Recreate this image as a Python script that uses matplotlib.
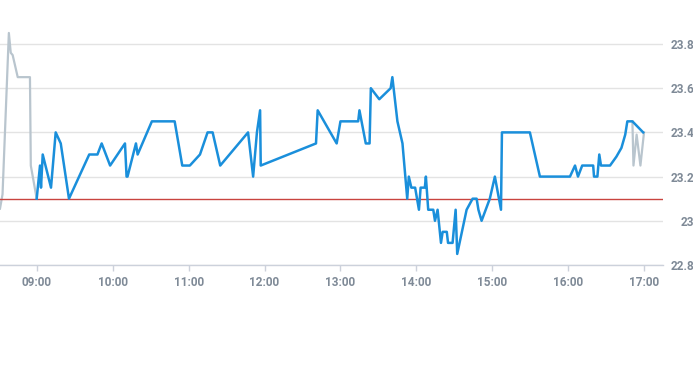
import matplotlib
matplotlib.use("Agg")
import matplotlib.pyplot as plt
import matplotlib.dates as mdates
import pandas as pd

day = "2024-01-01 "

# main sensor (blue)
main_times = [
    "09:00:00", "09:02:36", "09:03:24", "09:04:45", "09:11:18", "09:15:00", "09:19:00",
    "09:25:30", "09:41:30", "09:48:00", "09:51:20", "09:58:00", "10:09:45", "10:11:00",
    "10:11:45", "10:18:25", "10:19:45", "10:31:00", "10:49:00", "10:55:00", "11:01:00",
    "11:09:00", "11:15:00", "11:19:00", "11:25:00", "11:47:00", "11:51:00", "11:54:00",
    "11:56:30", "11:57:00", "12:40:40", "12:42:00", "12:57:00", "13:00:00", "13:14:00",
    "13:15:00", "13:20:00", "13:23:00", "13:24:00", "13:30:40", "13:39:40", "13:41:00",
    "13:45:00", "13:49:00", "13:52:45", "13:54:00", "13:56:00", "13:59:00", "14:02:00",
    "14:03:20", "14:06:40", "14:07:30", "14:09:20", "14:13:20", "14:14:40", "14:16:45",
    "14:19:25", "14:20:45", "14:24:00", "14:25:00", "14:28:35", "14:31:00", "14:32:15",
    "14:39:40", "14:44:25", "14:47:35", "14:49:00", "14:51:30", "14:58:00", "15:02:00",
    "15:06:50", "15:07:35", "15:29:40", "15:37:35", "16:01:20", "16:05:20", "16:07:40",
    "16:11:00", "16:19:40", "16:20:20", "16:23:00", "16:24:30", "16:25:50", "16:33:00",
    "16:38:00", "16:42:00", "16:45:00", "16:46:40", "16:50:40", "16:59:10",
]
main_values = [
    23.10, 23.25, 23.15, 23.30, 23.15, 23.40, 23.35,
    23.10, 23.30, 23.30, 23.35, 23.25, 23.35, 23.20,
    23.20, 23.35, 23.30, 23.45, 23.45, 23.25, 23.25,
    23.30, 23.40, 23.40, 23.25, 23.40, 23.20, 23.40,
    23.50, 23.25, 23.35, 23.50, 23.35, 23.45, 23.45,
    23.50, 23.35, 23.35, 23.60, 23.55, 23.60, 23.65,
    23.45, 23.35, 23.10, 23.20, 23.15, 23.15, 23.05,
    23.15, 23.15, 23.20, 23.05, 23.05, 23.00, 23.05,
    22.90, 22.95, 22.95, 22.90, 22.90, 23.05, 22.85,
    23.05, 23.10, 23.10, 23.05, 23.00, 23.10, 23.20,
    23.05, 23.40, 23.40, 23.20, 23.20, 23.25, 23.20,
    23.25, 23.25, 23.20, 23.20, 23.30, 23.25, 23.25,
    23.29, 23.33, 23.39, 23.45, 23.45, 23.40,
]

# secondary sensor (gray), only at start and end of the day
other_times = [
    "08:31:00", "08:33:00", "08:38:00", "08:39:30", "08:41:00", "08:45:00",
    "08:54:40", "08:55:20", "09:00:00",
    "16:50:40", "16:51:30", "16:54:00", "16:57:00", "16:59:50",
]
other_values = [
    23.055, 23.12, 23.85, 23.76, 23.75, 23.65,
    23.65, 23.25, 23.10,
    23.45, 23.25, 23.39, 23.25, 23.40,
]
other_segments = [(0, 9), (9, 14)]

target = 23.1
x_start, x_end = "08:31:00", "17:14:50"
y_min, y_max = 22.8, 23.9
y_ticks = [22.8, 23.0, 23.2, 23.4, 23.6, 23.8]
y_tick_labels = ["22.8", "23", "23.2", "23.4", "23.6", "23.8"]

main_t = pd.to_datetime([day + t for t in main_times])
other_t = pd.to_datetime([day + t for t in other_times])

plt.rcParams["font.family"] = ["Roboto", "DejaVu Sans"]

fig = plt.figure(figsize=(6.93, 3.65), dpi=100)
ax = fig.add_axes([0.0, 0.274, 0.9567, 0.666])

for a, b in other_segments:
    ax.plot(other_t[a:b], other_values[a:b], color="#b9c5ce", lw=1.6, zorder=2)
ax.plot(main_t, main_values, color="#1a8fdb", lw=1.8, zorder=3)
ax.axhline(target, color="#c9443f", lw=1.0, zorder=2.5)

ax.set_xlim(pd.Timestamp(day + x_start), pd.Timestamp(day + x_end))
ax.set_ylim(y_min, y_max)
ax.set_yticks(y_ticks)
ax.set_yticklabels(y_tick_labels)
ax.xaxis.set_major_locator(mdates.HourLocator())
ax.xaxis.set_major_formatter(mdates.DateFormatter("%H:%M"))

ax.grid(axis="y", color="#e3e3e3", lw=1.0)
ax.set_axisbelow(True)
for s in ["top", "left", "right"]:
    ax.spines[s].set_visible(False)
ax.spines["bottom"].set_color("#ccd1db")
ax.spines["bottom"].set_linewidth(1.0)

ax.tick_params(axis="x", colors="#ccd1db", length=4, width=1, labelcolor="#7f8a97",
               labelsize=8.5, pad=4)
ax.tick_params(axis="y", length=0, left=False, right=False, labelleft=False,
               labelright=True, labelcolor="#7f8a97", labelsize=8.5, pad=22.5)
for tick in ax.yaxis.get_major_ticks():
    tick.label2.set_horizontalalignment("right")
for lbl in ax.get_xticklabels() + [t.label2 for t in ax.yaxis.get_major_ticks()]:
    lbl.set_fontweight("bold")

fig.savefig("out.png", dpi=100)
